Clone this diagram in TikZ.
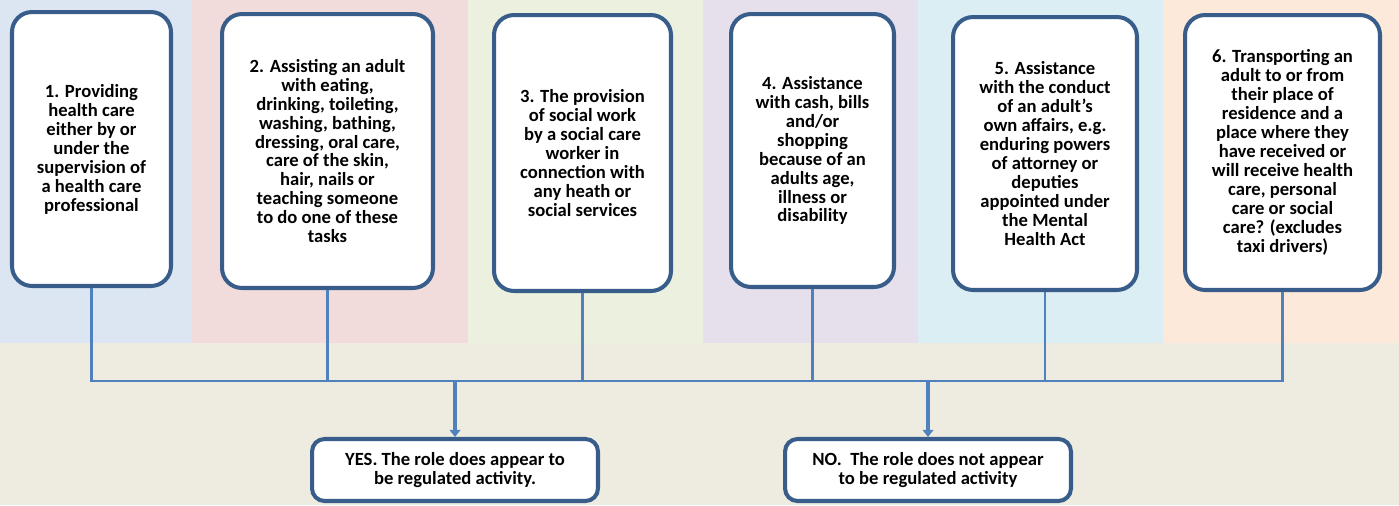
\documentclass[tikz,border=0pt]{standalone}
\usepackage{fontspec}
\setmainfont{Carlito}
\usetikzlibrary{arrows.meta, positioning}

\definecolor{bandblue}{HTML}{DCE6F2}
\definecolor{bandpink}{HTML}{F2DCDB}
\definecolor{bandgreen}{HTML}{EBF1DE}
\definecolor{bandpurple}{HTML}{E5E0EC}
\definecolor{bandcyan}{HTML}{DBEEF4}
\definecolor{bandpeach}{HTML}{FDE9D9}
\definecolor{bandbeige}{HTML}{EEECE1}
\definecolor{boxblue}{HTML}{385D8A}
\definecolor{linkblue}{HTML}{4F81BD}

\begin{document}
\begin{tikzpicture}[x=0.02cm, y=-0.02cm]
    \tikzstyle{stepbox}=[draw=boxblue, line width=2.3pt, fill=white, rectangle, rounded corners=0.4cm, align=center, inner sep=1pt, font=\fontsize{10.6}{10.8}\selectfont\bfseries]
    \tikzstyle{answerbox}=[stepbox, minimum width=5.72cm, minimum height=1.24cm, rounded corners=0.25cm]
    \tikzstyle{link}=[draw=linkblue, line width=1.2pt]
    \tikzstyle{arrowlink}=[draw=linkblue, line width=1.8pt, -{Triangle[width=6pt,length=4pt]}]

    % background bands
    \useasboundingbox (0,0) rectangle (1399,505);
    \fill[bandbeige] (0,0) rectangle (1399,505);
    \fill[bandblue] (0,0) rectangle (192,343);
    \fill[bandpink] (192,0) rectangle (468,343);
    \fill[bandgreen] (468,0) rectangle (703,343);
    \fill[bandpurple] (703,0) rectangle (918,343);
    \fill[bandcyan] (918,0) rectangle (1163,343);
    \fill[bandpeach] (1163,0) rectangle (1399,343);

    \node[stepbox, minimum width=3.18cm, minimum height=5.48cm] (box1) at (91.5,149)
        {1. Providing\\health care\\either by or\\under the\\supervision of\\a health care\\professional};
    \node[stepbox, minimum width=4.22cm, minimum height=5.48cm] (box2) at (327.5,151)
        {2. Assisting an adult\\with eating,\\drinking, toileting,\\washing, bathing,\\dressing, oral care,\\care of the skin,\\hair, nails or\\teaching someone\\to do one of these\\tasks};
    \node[stepbox, minimum width=3.54cm, minimum height=5.52cm] (box3) at (582.5,153)
        {3. The provision\\of social work\\by a social care\\worker in\\connection with\\any heath or\\social services};
    \node[stepbox, minimum width=3.26cm, minimum height=5.46cm] (box4) at (812.5,150.5)
        {4. Assistance\\with cash, bills\\and/or\\shopping\\because of an\\adults age,\\illness or\\disability};
    \node[stepbox, minimum width=3.68cm, minimum height=5.46cm] (box5) at (1045,153.5)
        {5. Assistance\\with the conduct\\of an adult's\\own affairs, e.g.\\enduring powers\\of attorney or\\deputies\\appointed under\\the Mental\\Health Act};
    \node[stepbox, minimum width=3.9cm, minimum height=5.5cm] (box6) at (1282.5,152.5)
        {6. Transporting an\\adult to or from\\their place of\\residence and a\\place where they\\have received or\\will receive health\\care, personal\\care or social\\care? (excludes\\taxi drivers)};

    \node[answerbox] (yes) at (455,470) {YES. The role does appear to\\be regulated activity.};
    \node[answerbox] (no) at (928,470) {NO.\ \ The role does not appear\\to be regulated activity};

    \coordinate (bus) at (0,381);

    \draw[link] (box1.south) -- (box1.south |- bus) -- (box6.south |- bus) -- (box6.south);
    \draw[link] (box2.south) -- (box2.south |- bus);
    \draw[link] (box3.south) -- (box3.south |- bus);
    \draw[link] (box4.south) -- (box4.south |- bus);
    \draw[link] (box5.south) -- (box5.south |- bus);

    \draw[arrowlink] (yes.north |- bus) -- (yes.north);
    \draw[arrowlink] (no.north |- bus) -- (no.north);
\end{tikzpicture}
\end{document}
